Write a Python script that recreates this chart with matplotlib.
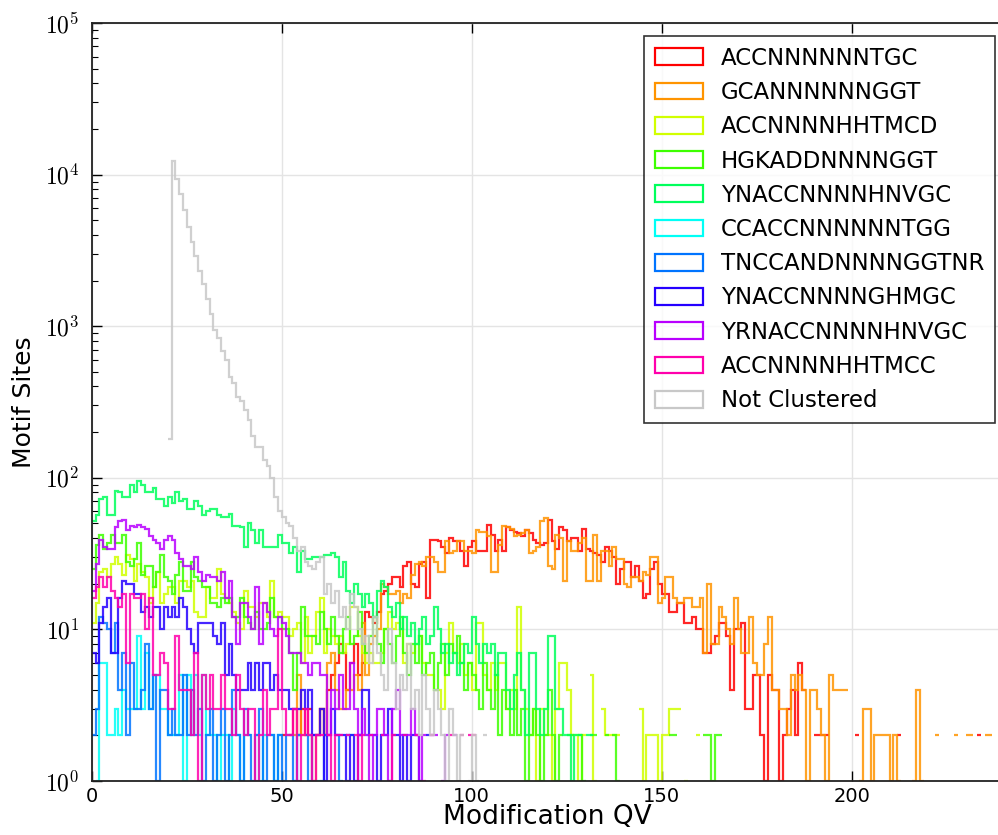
import numpy as np
import matplotlib
matplotlib.use("Agg")
import matplotlib.pyplot as plt
from matplotlib.patches import Patch
from matplotlib.ticker import FuncFormatter, LogLocator

plt.rcParams["mathtext.fontset"] = "cm"
plt.rcParams["font.family"] = "DejaVu Sans"

# motif names, in plotting order
motifs = ["ACCNNNNNNTGC", "GCANNNNNNGGT", "ACCNNNNHHTMCD", "HGKADDNNNNGGT",
          "YNACCNNNNHNVGC", "CCACCNNNNNNTGG", "TNCCANDNNNNGGTNR", "YNACCNNNNGHMGC",
          "YRNACCNNNNHNVGC", "ACCNNNNHHTMCC", "Not Clustered"]

# counts per 1-QV bin, each list starts at the given bin
red_start = 50
red = [2, 0, 2, 3, 2, 3, 2, 3, 0, 2, 3, 2, 4, 5, 6, 8, 7, 4, 6, 8,
       5, 6, 13, 12, 11, 13, 17, 18, 20, 22, 22, 19, 26, 28, 20, 19, 27, 28, 16, 39,
       39, 38, 35, 32, 40, 38, 38, 33, 26, 35, 38, 33, 33, 33, 49, 42, 33, 39, 33, 47,
       45, 44, 43, 41, 45, 43, 39, 37, 36, 37, 53, 38, 34, 47, 45, 38, 40, 40, 33, 46,
       34, 33, 32, 31, 28, 35, 33, 30, 20, 25, 28, 28, 22, 26, 21, 16, 17, 25, 28, 20,
       17, 17, 13, 13, 15, 15, 11, 11, 12, 10, 10, 7, 7, 8, 9, 11, 11, 9, 4, 10,
       10, 11, 3, 3, 5, 5, 2, 1, 5, 4, 4, 1, 2, 3, 4, 2, 6, 4, 0, 0,
       2, 2, 2, 2, 0, 0, 0, 0, 0, 0, 0, 2, 0, 0, 0, 0, 0, 0, 0, 0,
       0, 0, 2, 0, 0, 0, 0, 0, 0, 0, 0, 0, 0, 0, 0, 0, 0, 0, 0, 0,
       0, 0, 0, 2]
orange_start = 53
orange = [2, 5, 2, 0, 2, 1, 2, 3, 2, 6, 7, 4, 3, 3, 4,
          4, 5, 4, 11, 5, 8, 9, 10, 20, 19, 17, 17, 18, 15, 17, 16, 23, 27, 28, 26,
          30, 30, 28, 24, 24, 38, 32, 33, 38, 38, 33, 33, 32, 45, 44, 44, 41, 24, 24, 36,
          48, 47, 46, 41, 42, 43, 45, 32, 33, 35, 52, 54, 26, 25, 42, 40, 21, 38, 33, 33,
          37, 40, 21, 21, 42, 21, 33, 33, 26, 35, 29, 29, 20, 19, 22, 22, 21, 24, 23, 30,
          30, 15, 16, 22, 22, 16, 15, 15, 16, 16, 14, 14, 16, 7, 20, 8, 8, 14, 12, 10,
          8, 16, 10, 7, 7, 12, 6, 5, 5, 8, 12, 4, 4, 3, 3, 2, 5, 4, 5, 4,
          1, 4, 4, 3, 2, 1, 5, 4, 4, 4, 4, 0, 0, 0, 1, 3, 3, 1, 2, 2,
          2, 2, 1, 2, 1, 0, 0, 0, 1, 4, 1, 0, 0, 0, 2, 0, 0, 0, 0, 2,
          0, 0, 2, 2, 0, 0, 0, 2, 2]
yellow_start = 0
yellow = [11, 15, 24, 25, 22, 27, 30, 27, 23, 31, 29, 21, 27, 24, 22, 15, 19, 24, 15, 17,
          19, 19, 15, 21, 21, 19, 21, 13, 12, 12, 19, 16, 16, 25, 17, 16, 15, 13, 11, 10,
          18, 14, 14, 12, 15, 15, 12, 21, 12, 13, 12, 12, 9, 10, 11, 6, 12, 7, 9, 13,
          16, 7, 10, 9, 8, 9, 7, 8, 14, 14, 9, 7, 6, 7, 6, 6, 7, 10, 13, 10,
          11, 10, 6, 8, 7, 8, 9, 6, 5, 5, 4, 4, 3, 7, 11, 7, 6, 8, 5, 6,
          4, 11, 11, 5, 4, 6, 4, 6, 6, 3, 4, 3, 14, 4, 3, 2, 3, 1, 3, 2,
          2, 1, 3, 6, 6, 4, 2, 2, 1, 2, 0, 5, 1, 0, 3, 2, 2, 2, 2, 0,
          0, 0, 0, 0, 3, 1, 2, 2, 2, 1, 2, 2, 3, 3, 3, 0, 1, 0, 0, 2]
green_start = 0
green = [25, 36, 42, 34, 37, 42, 37, 37, 42, 28, 26, 29, 37, 23, 26, 26, 19, 24, 31, 22,
         21, 17, 23, 28, 18, 18, 28, 22, 21, 19, 19, 15, 15, 14, 16, 15, 16, 12, 12, 16,
         12, 11, 10, 13, 10, 10, 11, 16, 12, 12, 10, 10, 7, 4, 7, 14, 9, 9, 9, 8,
         13, 10, 8, 12, 9, 7, 10, 12, 8, 9, 13, 8, 7, 9, 12, 8, 6, 10, 8, 6,
         9, 12, 7, 5, 8, 6, 9, 5, 6, 7, 4, 6, 8, 5, 8, 7, 9, 6, 4, 6,
         5, 4, 3, 6, 4, 3, 5, 2, 4, 3, 2, 4, 2, 3, 1, 2, 3, 2, 1, 2,
         4, 2, 1, 2, 0, 2, 2, 0, 2, 1, 0, 2, 2, 0, 0, 2, 0, 2, 1, 0,
         0, 0, 0, 0, 0, 0, 0, 0, 0, 0, 0, 0, 2, 2, 0, 0, 0, 0, 0, 0,
         0, 2, 2, 1, 2, 2]
spring_start = 0
spring = [52, 57, 72, 75, 57, 57, 82, 80, 75, 75, 90, 80, 95, 90, 80, 80, 85, 72, 72, 65,
          75, 68, 80, 70, 72, 62, 62, 70, 65, 57, 60, 62, 62, 57, 55, 55, 58, 48, 48, 47,
          35, 50, 45, 37, 45, 35, 35, 35, 35, 42, 37, 37, 32, 35, 24, 33, 29, 29, 30, 30,
          30, 31, 31, 32, 30, 22, 28, 18, 15, 20, 17, 14, 17, 15, 12, 18, 21, 19, 14, 12,
          15, 10, 12, 9, 11, 8, 10, 12, 8, 9, 14, 10, 7, 8, 6, 7, 5, 6, 8, 7,
          12, 8, 6, 8, 7, 8, 5, 7, 7, 4, 3, 5, 7, 4, 2, 7, 7, 3, 2, 3,
          9, 9, 3, 3, 2, 2, 1, 2, 2, 0, 2, 2]
cyan_start = 1
cyan = [1, 6, 6, 2, 2, 3, 2, 4, 3, 3, 3, 9, 3, 7, 3, 5, 5, 3, 3,
        2, 2, 2, 5, 1, 5, 2, 5, 2, 5, 2, 2, 2, 1, 2, 2, 1, 3, 2, 1,
        2, 2, 0, 2, 1, 2, 0, 2, 1, 2, 0, 2, 0, 1, 2, 0, 0, 2, 0, 1,
        0, 0, 0, 0, 0, 0, 0, 0, 2, 0, 0, 0, 2]
azure_start = 0
azure = [2, 3, 12, 11, 10, 7, 11, 4, 7, 2, 6, 3, 3, 4, 8, 3, 5, 1, 4, 4,
         2, 3, 2, 2, 5, 2, 4, 2, 3, 1, 2, 3, 1, 2, 3, 1, 2, 4, 2, 1,
         3, 2, 1, 2, 3, 1, 2, 2, 1, 2, 1, 2, 2, 1, 2, 0, 2, 1, 2, 0,
         1, 2, 0, 0, 2, 1, 0, 2, 0, 0, 2]
blue_start = 0
blue = [7, 6, 11, 14, 16, 7, 7, 16, 21, 20, 20, 17, 17, 13, 14, 12, 14, 14, 10, 14,
        12, 14, 12, 16, 14, 10, 8, 7, 11, 11, 11, 11, 9, 8, 11, 5, 8, 5, 4, 4,
        4, 6, 4, 6, 4, 6, 6, 4, 5, 4, 4, 4, 3, 3, 3, 4, 3, 4, 2, 2,
        3, 1, 2, 3, 2, 2, 2, 1, 2, 1, 2, 4, 4, 2, 2, 1, 2, 2, 3, 2,
        2, 1, 2, 1, 2, 2, 1, 0, 2]
purple_start = 0
purple = [18, 27, 39, 35, 34, 34, 47, 52, 53, 45, 48, 47, 49, 47, 46, 41, 39, 37, 34, 39,
          41, 39, 32, 29, 26, 26, 25, 30, 24, 21, 23, 22, 22, 21, 24, 16, 21, 12, 8, 15,
          15, 12, 10, 19, 8, 15, 13, 10, 9, 12, 11, 9, 7, 7, 7, 6, 6, 5, 6, 6,
          5, 5, 2, 4, 3, 5, 3, 3, 6, 3, 2, 3, 2, 1, 2, 3, 3, 2, 1, 3,
          4, 2, 0, 2, 3, 2, 1, 2, 0, 2, 2, 0, 1, 2, 0, 2]
pink_start = 0
pink = [16, 19, 22, 19, 22, 18, 16, 14, 17, 6, 17, 16, 16, 17, 10, 16, 5, 5, 7, 6,
        3, 3, 9, 4, 4, 4, 2, 7, 1, 5, 3, 5, 3, 3, 5, 3, 3, 2, 5, 3,
        2, 3, 3, 1, 2, 4, 2, 3, 3, 10, 3, 2, 2, 3, 1, 2, 3, 2, 1, 2,
        2, 0, 2, 1, 2, 2, 0, 2, 0, 2, 1, 2, 0, 2, 0, 0, 2, 0, 1, 2,
        0, 0, 2, 0, 0, 2, 0, 1, 0, 2, 0, 0, 0, 0, 2, 0, 0, 2, 0, 2,
        2]
gray_start = 20
gray = [180, 12300, 9300, 7400, 5800, 4500, 3600, 2900, 2300, 1900,
        1500, 1200, 950, 840, 690, 600, 460, 420, 340, 320,
        280, 240, 190, 160, 160, 130, 120, 100, 75, 60,
        55, 50, 48, 40, 33, 35, 28, 26, 25, 28,
        30, 17, 20, 15, 18, 12, 14, 10, 17, 14,
        10, 8, 9, 6, 12, 7, 5, 4, 10, 6,
        3, 5, 4, 8, 3, 4, 2, 5, 3, 2,
        4, 3, 2, 1, 3, 2, 1, 2, 0, 1,
        2, 1, 0, 2]

series = [(red_start, red), (orange_start, orange), (yellow_start, yellow),
          (green_start, green), (spring_start, spring), (cyan_start, cyan),
          (azure_start, azure), (blue_start, blue), (purple_start, purple),
          (pink_start, pink), (gray_start, gray)]

colors = [plt.cm.hsv(i / 10.0) for i in range(10)] + ["#c8c8c8"]

fig = plt.figure(figsize=(9.98, 8.35), dpi=100)
ax = fig.add_axes([0.0919, 0.0647, 0.9138, 0.9078])

handles = []
for (start, counts), name, col in zip(series, motifs, colors):
    vals = np.array(counts, dtype=float)
    vals[vals <= 0] = np.nan  # empty bins leave a gap on the log axis
    edges = np.arange(start, start + len(vals) + 1)
    ax.stairs(vals, edges, baseline=None, color=col, lw=1.6, alpha=0.85)
    handles.append(Patch(facecolor="none", edgecolor=col, lw=1.6, label=name))

ax.set_yscale("log")
ax.set_ylim(1, 1e5)
ax.set_xlim(0, 240)
ax.set_xticks([0, 50, 100, 150, 200])
ax.yaxis.set_major_locator(LogLocator(base=10))
ax.yaxis.set_major_formatter(FuncFormatter(lambda v, p: r"$10^{%d}$" % round(np.log10(v))))

ax.grid(True, which="major", color="#e4e4e4", lw=1.0)
ax.set_axisbelow(True)
ax.tick_params(which="both", direction="in", top=True, right=False)
ax.tick_params(axis="x", labelsize=14, pad=4)
ax.tick_params(axis="y", labelsize=17, pad=9)
ax.tick_params(which="major", length=7, width=1)
ax.tick_params(which="minor", length=4, width=0.8)
for sp in ax.spines.values():
    sp.set_linewidth(1.3)
    sp.set_color("#222222")

ax.set_xlabel("Modification QV", fontsize=19, labelpad=-1)
ax.set_ylabel("Motif Sites", fontsize=18, labelpad=6)

leg = ax.legend(handles=handles, loc="upper right", bbox_to_anchor=(0.9905, 0.983),
                borderaxespad=0, fontsize=16.5, frameon=True, fancybox=False,
                handlelength=2.1, handleheight=0.75, labelspacing=0.49,
                handletextpad=0.75, borderpad=0.48)
leg.get_frame().set_edgecolor("black")
leg.get_frame().set_linewidth(1.2)

fig.savefig("out.png", dpi=100)
